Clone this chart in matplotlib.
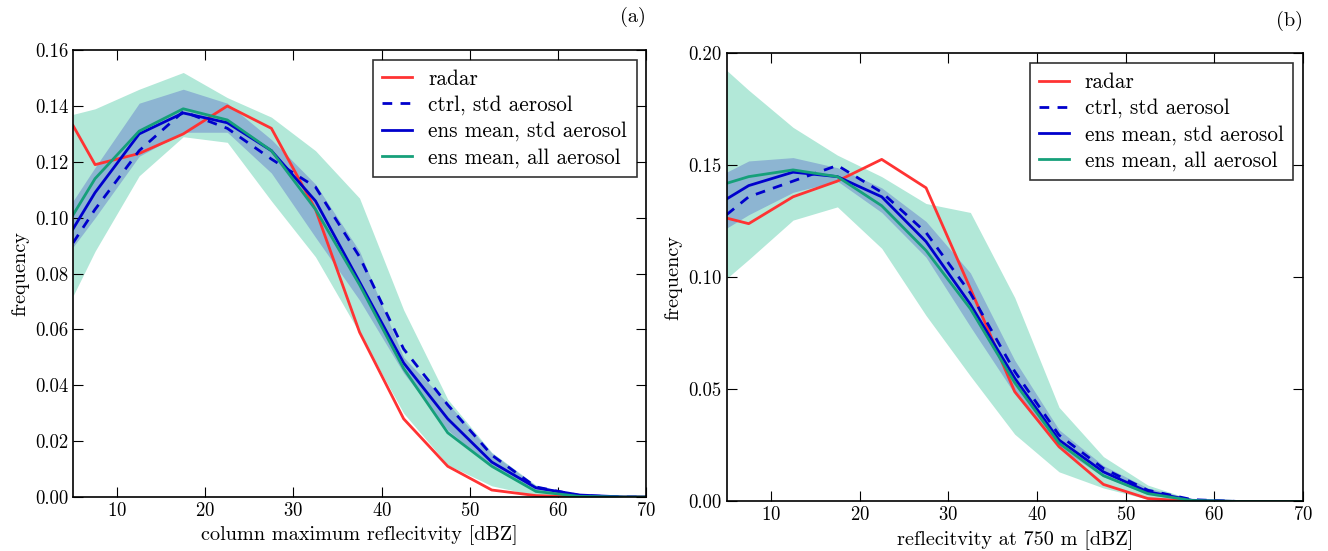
import numpy as np
import matplotlib
matplotlib.use('Agg')
import matplotlib.pyplot as plt
from matplotlib.ticker import FormatStrFormatter

# bin centres in dBZ (first point sits on the left axis edge)
dbz = [5, 7.5, 12.5, 17.5, 22.5, 27.5, 32.5, 37.5, 42.5, 47.5, 52.5, 57.5, 62.5, 67.5, 72.5]

# (a) column maximum reflectivity
a_radar = [0.133, 0.119, 0.123, 0.130, 0.140, 0.132, 0.103, 0.059, 0.028, 0.011, 0.0025, 0.0005, 0.0, 0.0, 0.0]
a_ctrl = [0.091, 0.103, 0.124, 0.138, 0.132, 0.121, 0.111, 0.086, 0.053, 0.033, 0.015, 0.0036, 0.0005, 0.0, 0.0]
a_std = [0.096, 0.109, 0.130, 0.1375, 0.134, 0.124, 0.106, 0.077, 0.048, 0.028, 0.0125, 0.0033, 0.0007, 0.0, 0.0]
a_all = [0.101, 0.114, 0.131, 0.139, 0.135, 0.124, 0.103, 0.076, 0.046, 0.023, 0.011, 0.002, 0.0002, 0.0, 0.0]
a_std_lo = [0.0895, 0.100, 0.122, 0.1306, 0.1306, 0.116, 0.093, 0.0705, 0.0444, 0.024, 0.0107, 0.002, 0.0002, 0.0, 0.0]
a_std_hi = [0.106, 0.118, 0.141, 0.146, 0.141, 0.128, 0.112, 0.088, 0.050, 0.0336, 0.0157, 0.004, 0.0008, 0.0, 0.0]
a_all_lo = [0.072, 0.088, 0.115, 0.129, 0.127, 0.106, 0.086, 0.0587, 0.030, 0.0115, 0.004, 0.0005, 0.0, 0.0, 0.0]
a_all_hi = [0.137, 0.139, 0.146, 0.152, 0.143, 0.136, 0.124, 0.107, 0.067, 0.035, 0.016, 0.0043, 0.0005, 0.0, 0.0]

# (b) reflectivity at 750 m
b_radar = [0.1265, 0.124, 0.136, 0.143, 0.1527, 0.140, 0.095, 0.049, 0.0244, 0.0076, 0.0013, 0.0, 0.0, 0.0, 0.0]
b_ctrl = [0.128, 0.136, 0.143, 0.150, 0.138, 0.120, 0.093, 0.058, 0.0296, 0.0147, 0.005, 0.0008, 0.0, 0.0, 0.0]
b_std = [0.135, 0.141, 0.147, 0.145, 0.136, 0.116, 0.088, 0.055, 0.0274, 0.0132, 0.0043, 0.0005, 0.0, 0.0, 0.0]
b_all = [0.142, 0.145, 0.148, 0.145, 0.132, 0.112, 0.086, 0.053, 0.026, 0.0115, 0.0035, 0.0004, 0.0, 0.0, 0.0]
b_std_lo = [0.122, 0.128, 0.138, 0.143, 0.129, 0.109, 0.078, 0.048, 0.024, 0.011, 0.003, 0.0002, 0.0, 0.0, 0.0]
b_std_hi = [0.147, 0.152, 0.1535, 0.149, 0.140, 0.125, 0.102, 0.063, 0.032, 0.016, 0.006, 0.001, 0.0, 0.0, 0.0]
b_all_lo = [0.0995, 0.108, 0.1256, 0.1315, 0.113, 0.083, 0.056, 0.030, 0.0132, 0.006, 0.001, 0.0, 0.0, 0.0, 0.0]
b_all_hi = [0.1925, 0.1836, 0.167, 0.1546, 0.145, 0.133, 0.129, 0.091, 0.042, 0.020, 0.0073, 0.0008, 0.0, 0.0, 0.0]

plt.rcParams['font.family'] = ['cmr10', 'DejaVu Serif']
plt.rcParams['axes.formatter.use_mathtext'] = True
plt.rcParams['font.size'] = 14

red = '#ff3333'
blue = '#0000cc'
green = '#16a07a'


def panel(ax, radar, ctrl, std, allm, std_lo, std_hi, all_lo, all_hi, ymax, ystep, xlabel, tag):
    ax.fill_between(dbz, all_lo, all_hi, color='#b2e8d8', lw=0)
    ax.fill_between(dbz, std_lo, std_hi, color='#8db5d2', lw=0)
    ax.plot(dbz, radar, color=red, lw=2, label='radar')
    ax.plot(dbz, ctrl, color=blue, lw=2, ls=(0, (3.5, 3)), label='ctrl, std aerosol')
    ax.plot(dbz, std, color=blue, lw=2, label='ens mean, std aerosol')
    ax.plot(dbz, allm, color=green, lw=2, label='ens mean, all aerosol')
    ax.set_xlim(5, 70)
    ax.set_ylim(0, ymax)
    ax.set_xticks([10, 20, 30, 40, 50, 60, 70])
    ax.set_yticks(np.arange(0, ymax + 1e-9, ystep))
    ax.yaxis.set_major_formatter(FormatStrFormatter('%.2f'))
    ax.tick_params(direction='in', top=True, right=True, length=7, labelsize=13.5)
    ax.set_xlabel(xlabel, fontsize=14.6)
    ax.set_ylabel('frequency', fontsize=14.6)
    ax.set_title(tag, loc='right', fontsize=14.6, pad=20)
    leg = ax.legend(loc='upper right', fontsize=15.3, fancybox=False, handlelength=1.4,
                    borderpad=0.45, labelspacing=0.3, handletextpad=0.75, borderaxespad=0.45)
    leg.get_frame().set_edgecolor('black')
    leg.get_frame().set_linewidth(1.2)
    for s in ax.spines.values():
        s.set_linewidth(1.2)


fig = plt.figure(figsize=(13.28, 5.51), dpi=100)
ax1 = fig.add_axes([0.055, 0.098, 0.4315, 0.811])
ax2 = fig.add_axes([0.5471, 0.090, 0.434, 0.813])

panel(ax1, a_radar, a_ctrl, a_std, a_all, a_std_lo, a_std_hi, a_all_lo, a_all_hi,
      0.16, 0.02, 'column maximum reflecitvity [dBZ]', '(a)')
panel(ax2, b_radar, b_ctrl, b_std, b_all, b_std_lo, b_std_hi, b_all_lo, b_all_hi,
      0.20, 0.05, 'reflecitvity at 750 m [dBZ]', '(b)')

fig.savefig('out.png', dpi=100)
